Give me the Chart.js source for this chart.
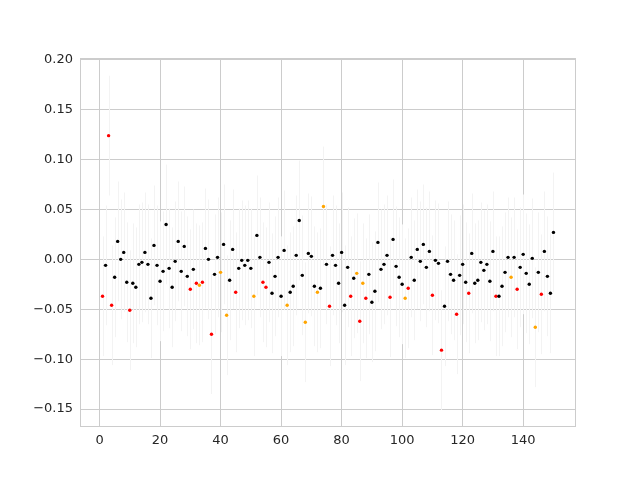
<!DOCTYPE html>
<html>
<head>
<meta charset="utf-8">
<script src="https://cdn.jsdelivr.net/npm/chart.js@4"></script>
<style>
	body { margin: 0; background: #fff; }
</style>
</head>
<body>
<canvas id="myChart" width="640" height="480"></canvas>
<script>
// y value of each point, x is its position 1..150
let values = [
	-0.037, -0.006, 0.124, -0.046, -0.018, 0.018, 0.000, 0.007, -0.023, -0.051,
	-0.024, -0.028, -0.005, -0.003, 0.007, -0.005, -0.039, 0.014, -0.006, -0.022,
	-0.012, 0.035, -0.009, -0.028, -0.002, 0.018, -0.012, 0.013, -0.017, -0.030,
	-0.010, -0.024, -0.026, -0.023, 0.011, 0.000, -0.075, -0.015, 0.002, -0.013,
	0.015, -0.056, -0.021, 0.010, -0.033, -0.009, -0.001, -0.006, -0.001, -0.009,
	-0.037, 0.024, 0.002, -0.023, -0.028, -0.003, -0.034, -0.017, 0.002, -0.037,
	0.009, -0.046, -0.033, -0.027, 0.004, 0.039, -0.016, -0.063, 0.006, 0.003,
	-0.027, -0.033, -0.029, 0.053, -0.005, -0.047, 0.004, -0.006, -0.024, 0.007,
	-0.046, -0.008, -0.037, -0.019, -0.014, -0.062, -0.024, -0.039, -0.015, -0.043,
	-0.032, 0.017, -0.010, -0.005, 0.004, -0.038, 0.020, -0.007, -0.018, -0.025,
	-0.039, -0.029, 0.002, -0.021, 0.010, -0.002, 0.015, -0.008, 0.008, -0.036,
	-0.001, -0.004, -0.091, -0.047, -0.002, -0.015, -0.021, -0.055, -0.016, -0.005,
	-0.023, -0.034, 0.006, -0.024, -0.021, -0.003, -0.011, -0.005, -0.022, 0.008,
	-0.037, -0.037, -0.027, -0.013, 0.002, -0.018, 0.002, -0.030, -0.008, 0.005,
	-0.014, -0.025, 0.001, -0.068, -0.013, -0.035, 0.008, -0.017, -0.034, 0.027
];
// colour group of each point: k = black, r = red, o = orange
let groups = (
	"rkrrkkkkkr" + "kkkkkkkkkk" + "kkkkkkkkkr" + "krorkkrkko" +
	"kokkrkkkkk" + "okkrrkkkkk" + "kokkkkkokk" + "kokokrkkkk" +
	"kkrkororkk" + "kkkkkrkkkk" + "orkkkkkkkr" + "kkrkkkkrkk" +
	"krkkkkkkkk" + "rkkkkokrkk" + "kkkokrkkkk"
).split("");
// half length of the error bars
let errorHalf = 0.06;

let xTicks = [0, 20, 40, 60, 80, 100, 120, 140];
let yTicks = [-0.15, -0.10, -0.05, 0.00, 0.05, 0.10, 0.15, 0.20];

let groupColors = { k: '#000000', r: '#ff0000', o: '#ffa500' };

let pointsFor = function (g) {
	let pts = [];
	values.forEach(function (v, i) {
		if (groups[i] === g) pts.push({ x: i + 1, y: v });
	});
	return pts;
};

let errorBars = {
	id: 'errorBars',
	beforeDatasetsDraw: function (chart) {
		let ctx = chart.ctx, xs = chart.scales.x, ys = chart.scales.y;
		let a = chart.chartArea;
		ctx.save();
		ctx.beginPath();
		ctx.rect(a.left, a.top, a.right - a.left, a.bottom - a.top);
		ctx.clip();
		ctx.strokeStyle = '#f3f3f3';
		ctx.lineWidth = 1;
		values.forEach(function (v, i) {
			let px = Math.round(xs.getPixelForValue(i + 1)) + 0.5;
			ctx.beginPath();
			ctx.moveTo(px, ys.getPixelForValue(v - errorHalf));
			ctx.lineTo(px, ys.getPixelForValue(v + errorHalf));
			ctx.stroke();
		});
		ctx.restore();
	},
	afterDraw: function (chart) {
		let ctx = chart.ctx, a = chart.chartArea;
		ctx.save();
		ctx.strokeStyle = '#cccccc';
		ctx.lineWidth = 1;
		ctx.strokeRect(a.left + 0.5, a.top + 0.5, a.right - a.left - 1, a.bottom - a.top - 1);
		ctx.restore();
	}
};

let fmt = function (v) {
	return v.toFixed(2).replace('-', '\u2212');
};

var ctx = document.getElementById("myChart").getContext('2d');
var myChart = new Chart(ctx, {
	type: 'scatter',
	data: {
		datasets: ['k', 'r', 'o'].map(function (g) {
			return {
				data: pointsFor(g),
				backgroundColor: groupColors[g],
				borderWidth: 0,
				pointRadius: 1.7,
				pointHoverRadius: 1.7
			};
		})
	},
	options: {
		responsive: false,
		animation: false,
		layout: { padding: { top: 58, right: 64, left: 0, bottom: 0 } },
		plugins: { legend: { display: false }, tooltip: { enabled: false } },
		scales: {
			x: {
				type: 'linear',
				min: -6.45,
				max: 157.45,
				afterBuildTicks: function (axis) {
					axis.ticks = xTicks.map(function (v) { return { value: v }; });
				},
				afterFit: function (axis) { axis.height = 53; },
				grid: { color: '#cccccc', drawTicks: false },
				border: { display: false },
				ticks: {
					padding: 6,
					color: '#262626',
					font: { family: 'DejaVu Sans', size: 13 },
					callback: function (v) { return String(v); }
				}
			},
			y: {
				type: 'linear',
				min: -0.168,
				max: 0.2018,
				afterBuildTicks: function (axis) {
					axis.ticks = yTicks.map(function (v) { return { value: v }; });
				},
				afterFit: function (axis) { axis.width = 80; },
				grid: { color: '#cccccc', drawTicks: false },
				border: { display: false },
				ticks: {
					padding: 7,
					color: '#262626',
					font: { family: 'DejaVu Sans', size: 13 },
					callback: function (v) { return fmt(v); }
				}
			}
		}
	},
	plugins: [errorBars]
});
</script>
</body>
</html>
